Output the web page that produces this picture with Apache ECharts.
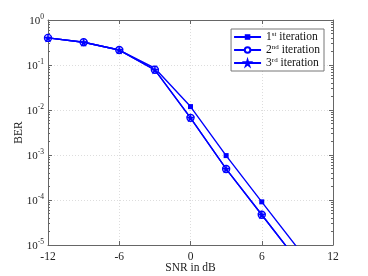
<!DOCTYPE html>
<html><head><meta charset="utf-8">
<script src="https://cdn.jsdelivr.net/npm/echarts@6/dist/echarts.min.js"></script>
<style>html,body{margin:0;padding:0;background:#fff}#c{width:368px;height:276px}</style>
</head><body><div id="c"></div>
<script>
const snr = [-12, -9, -6, -3, 0, 3, 6, 9];
const ber1 = [0.40, 0.32, 0.215, 0.085, 0.0119, 9.7e-4, 9.1e-5, 8.7e-6];
const ber2 = [0.40, 0.32, 0.215, 0.078, 0.0067, 4.9e-4, 4.7e-5, 4.5e-6];
const ber3 = [0.40, 0.32, 0.215, 0.078, 0.0067, 4.9e-4, 4.7e-5, 4.5e-6];
const names = ['1st iteration', '2nd iteration', '3rd iteration'];
const legendRich = {
  '1st iteration': '1{s|st} iteration',
  '2nd iteration': '2{s|nd} iteration',
  '3rd iteration': '3{s|rd} iteration'
};
const xTicks = [-12, -6, 0, 6, 12];

const FONT = 'Liberation Serif';
const BLUE = '#0000ff';
const star = 'path://M50,0 L61,35 L98,35 L68,57 L79,91 L50,70 L21,91 L32,57 L2,35 L39,35 Z';

function pairs(ys) { return snr.map((x, i) => [x, ys[i]]); }

const chart = echarts.init(document.getElementById('c'), null, {renderer: 'canvas'});
const supRich = {
  b: {fontFamily: FONT, fontSize: 11, color: '#222', verticalAlign: 'bottom', lineHeight: 14},
  s: {fontFamily: FONT, fontSize: 7.5, color: '#222', verticalAlign: 'top', lineHeight: 14, padding: [0, 0, 5, 0]}
};
const yAxisBase = {
  type: 'log', logBase: 10, min: 1e-5, max: 1,
  axisLine: {show: true, onZero: false, lineStyle: {color: '#666', width: 1}},
  axisTick: {show: true, inside: true, length: 4, lineStyle: {color: '#666'}},
  minorTick: {show: true, splitNumber: 9, length: 2, lineStyle: {color: '#666'}},
  splitLine: {show: true, lineStyle: {color: '#ddd', type: [1, 2], width: 1}},
  minorSplitLine: {show: false}
};
chart.setOption({
  animation: false,
  grid: {left: 48, right: 35, top: 20, bottom: 31, containLabel: false, outerBoundsMode: 'none'},
  legend: {
    right: 44, top: 29, orient: 'vertical',
    backgroundColor: '#fff', borderColor: '#777', borderWidth: 1,
    padding: [2, 4, 2, 2], itemGap: 1, itemWidth: 27, itemHeight: 7,
    data: names,
    formatter: n => legendRich[n],
    textStyle: {fontFamily: FONT, fontSize: 11.5, color: '#111', lineHeight: 12,
      rich: {s: {fontFamily: FONT, fontSize: 7, color: '#111', verticalAlign: 'top', lineHeight: 12, padding: [0, 0, 3, 0]}}}
  },
  xAxis: [{
    type: 'value', min: -12, max: 12, interval: 6,
    name: 'SNR in dB', nameLocation: 'middle', nameGap: 17, nameMoveOverlap: false,
    nameTextStyle: {fontFamily: FONT, fontSize: 11.5, color: '#222'},
    axisLine: {show: true, onZero: false, lineStyle: {color: '#666'}},
    axisTick: {show: true, inside: true, length: 4, lineStyle: {color: '#666'}},
    axisLabel: {fontFamily: FONT, fontSize: 11.5, color: '#222', margin: 6,
      formatter: v => xTicks.includes(v) ? String(v) : ''},
    splitLine: {show: true, lineStyle: {color: '#ddd', type: [1, 2], width: 1}}
  }, {
    type: 'value', min: -12, max: 12, interval: 6, position: 'top',
    axisLine: {show: true, onZero: false, lineStyle: {color: '#666'}},
    axisTick: {show: true, inside: true, length: 4, lineStyle: {color: '#666'}},
    axisLabel: {show: false}, splitLine: {show: false}
  }],
  yAxis: [Object.assign({}, yAxisBase, {
    name: 'BER', nameLocation: 'middle', nameGap: 23, nameRotate: 90, nameMoveOverlap: false,
    nameTextStyle: {fontFamily: FONT, fontSize: 11.5, color: '#222'},
    axisLabel: {margin: 4, formatter: v => '{b|10}{s|' + Math.round(Math.log10(v)) + '}', rich: supRich}
  }), Object.assign({}, yAxisBase, {
    position: 'right', axisLabel: {show: false}, splitLine: {show: false}
  })],
  series: [{
    name: names[0], type: 'line', data: pairs(ber1), color: BLUE,
    symbol: 'rect', symbolSize: 5, lineStyle: {width: 1.4, color: BLUE},
    itemStyle: {color: BLUE}, z: 3
  }, {
    name: names[1], type: 'line', data: pairs(ber2), color: BLUE,
    symbol: 'circle', symbolSize: 7, lineStyle: {width: 1.4, color: BLUE},
    itemStyle: {color: '#fff', borderColor: BLUE, borderWidth: 1.4}, z: 3
  }, {
    name: names[2], type: 'line', data: pairs(ber3), color: BLUE,
    symbol: star, symbolSize: 8, lineStyle: {width: 1.4, color: BLUE},
    itemStyle: {color: BLUE, borderColor: BLUE, borderWidth: 0.5}, z: 4
  }]
});
</script></body></html>
